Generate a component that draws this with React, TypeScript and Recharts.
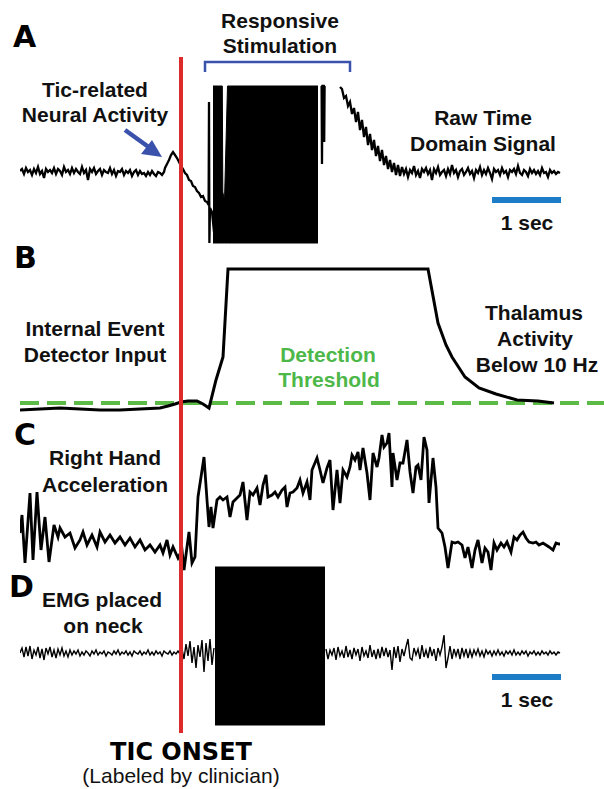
import React from "react";
import { ComposedChart, Line, Area, XAxis, YAxis, ReferenceLine } from "recharts";

// x axis: sample index (68 samples = 1 sec)
// ---------- Panel A : raw time-domain signal ----------
const aPreVals = [1,3,-2,4,0,2,-3,3,-1,5,-2,1,-6,3,0,2,-1,4,-2,3,1,-3,5,0,2,-2,4,-1,3,0,-2,5,-1,2,-8,3,0,4,-2,1,3,-3,2,0,-1,4,-2,2,-4,1,0,3,-3,1,-1,2,-4,0,2,-3,1,-2,-1,-4,0,-3,1,-2,-4,0,-1,-3,0];
const aTic = [[145,4],[147,8],[149,12],[151,17],[153,20],[155,17],[157,14],[159,10],[161,6],[163,3],[165,-1],[167,-3],[169,-8],[171,-9],[173,-14],[175,-15],[177,-19],[179,-21],[181,-25],[183,-24],[185,-29],[187,-30],[188.6,-33],[189,70],[189.4,-71],[190,-36],[192,-40],[194,-60]];
const aArtifact = [[301.6,86],[302,8],[302.4,86],[303.8,86],[304.2,30],[304.6,86]];
const aDecayVals = [85,83,74,76,66,70,58,64,50,60,42,52,35,45,27,38,22,32,16,26,11,22,7,16,3,12,0,9,-3,7,-4];
const aTailVals = [5,-2,3,-5,2,-1,6,-3,1,-6,3,0,4,-2,2,-8,3,-1,5,-3,0,2,-4,3,-2,7,-1,2,-5,1,3,-3,0,4,-2,1,-6,2,-1,5,-3,2,-2,4,-1,-7,3,0,2,-3,4,-1,1,-5,2,0,3,-2,6,-1,-3,2,0,-4,3,-1,2,-2,1,-3,4,-1,0,-5,2,-1,1,-2,0,-1];
const aStimBlock = [[193,-71,86],[202.3,-71,86],[202.8,-71,-20],[204.5,-71,-28],[207.5,-71,86],[298,-71,86]];
const bracket = [[185,100],[185,110],[330,110],[330,100]];

// ---------- Panel B : detector input ----------
const bDetector = [[0,-7],[20,-6],[40,-5],[60,-6],[80,-7],[100,-7],[120,-6],[140,-5],[148,-3],[155,-1],[161,1],[168,2],[177,2],[183,-1],[189,-5],[196,23],[203,46],[208,134],[408,134],[418,80],[426,58],[432,46],[445,26],[459,15],[476,9],[497,3],[518,2],[534,0]];

// ---------- Panel C : right hand acceleration ----------
const cAccel = [[0,7],[2,25],[5,-23],[10,47],[13,-20],[17,48],[21,-10],[25,23],[29,-22],[34,15],[38,3],[40,12],[45,3],[50,7],[55,-8],[60,0],[63,8],[67,-5],[72,5],[77,-7],[80,8],[85,-2],[90,5],[95,-3],[100,3],[105,-5],[110,2],[115,-7],[120,0],[125,-10],[130,-5],[135,-12],[140,-5],[143,-13],[147,0],[150,-15],[153,-7],[158,-18],[162,-10],[164,-30],[167,-7],[169,8],[172,-23],[175,-17],[178,43],[181,63],[184,83],[187,40],[189,13],[191,33],[193,12],[197,40],[200,43],[203,40],[207,43],[210,23],[213,38],[217,42],[220,45],[223,58],[227,20],[230,48],[233,45],[237,52],[240,35],[243,55],[246,65],[248,43],[252,45],[255,48],[258,43],[262,50],[265,53],[267,33],[270,47],[273,48],[277,52],[280,60],[283,47],[287,58],[290,40],[292,70],[297,82],[300,70],[303,57],[307,72],[310,80],[313,30],[317,70],[320,37],[323,70],[327,63],[330,73],[332,85],[335,80],[338,88],[340,70],[343,92],[347,67],[350,40],[353,87],[357,73],[359,82],[362,105],[364,93],[367,97],[369,107],[372,53],[373,87],[377,60],[380,77],[383,77],[387,100],[390,68],[393,47],[396,73],[398,75],[401,60],[404,103],[407,90],[409,37],[413,82],[416,53],[418,12],[422,7],[425,-7],[428,-28],[432,-2],[435,-3],[438,-2],[442,-5],[445,-18],[448,-7],[452,-28],[455,-10],[458,0],[462,-23],[465,-8],[468,-12],[471,-30],[474,-3],[477,-10],[481,-3],[484,-7],[487,-2],[491,-12],[494,3],[497,0],[500,5],[503,8],[506,2],[509,-2],[513,-3],[516,-2],[519,-5],[523,-3],[526,-5],[529,-7],[533,-10],[536,-3],[539,-4],[540,-4]];

// ---------- Panel D : EMG on neck ----------
const dPreVals = [0,5,-4,6,-3,7,-6,3,-2,6,-5,4,-7,5,-1,6,-4,3,-5,4,-2,5,-3,2,-4,
  3,-2,2,-1,3,-3,1,-2,2,0,-3,2,-1,3,-2,1,-1,2,-3,1,0,-2,2,-1,3,-2,1,-1,2,-2,1,-3,2,0,-1,2,-2,1,-1,3,-2,1,-2,2,-1,1,-3,2,0,-1,2,-2,1,-1,2,
  -1,4,-6,9,-3,12,-10,6,-15,8,-4,13,-19,10,-8,14,-12,5];
const dPostVals = [4,-6,3,-2,5,-7,6,-3,2,-5,7,-4,3,-6,5,-2,4,-8,6,-3,2,-5,8,-4,3,-6,4,-5,6,-3,5,-4,3,-17,6,-5,7,-9,4,-3,6,14,-5,-7,5,-2,4,-6,8,-4,3,-5,6,-3,4,-8,5,-2,6,18,-15,-5,7,-6,4,-3,4,-6,5,-3,4,-5,3,
  -4,3,-2,4,-3,2,-4,3,-1,2,-3,2,-2,3,-2,1,-3,2,-1,2,-2,3,-2,1,-2,2,-1,2,-3,1,-1,2,-2,1,-2,2,-1,1,-2,2,-1,1,-2,1,0];
const dStimBlock = [[195,-72,86],[305,-72,86]];

const TIC_ONSET = 161;
const SCALE_BAR = [472, 541]; // 1 sec

const pair = (arr: number[][]) => arr.map(([n, v]) => ({ n, v }));
const aLine = [
  ...aPreVals.map((v, i) => ({ n: i * 2, v })),
  ...pair(aTic),
  { n: 196, v: null },
  ...pair(aArtifact),
  { n: 310, v: null },
  ...aDecayVals.map((v, i) => ({ n: 320 + i * 2, v })),
  ...aTailVals.map((v, i) => ({ n: 382 + i * 2, v })),
];
const aBlock = aStimBlock.map(([n, lo, hi]) => ({ n, r: [lo, hi] }));
const dLine = [
  ...dPreVals.map((v, i) => ({ n: i * 2, v })),
  { n: 200, v: null },
  ...dPostVals.map((v, i) => ({ n: 306 + i * 2, v })),
];
const dBlock = dStimBlock.map(([n, lo, hi]) => ({ n, r: [lo, hi] }));

const BOLD = { fontFamily: "'Liberation Sans', Arial, sans-serif", fontWeight: 700, fontSize: 21, fill: "#111" } as const;
const LETTER = { fontFamily: "'DejaVu Sans', sans-serif", fontWeight: 700, fontSize: 30, fill: "#000" } as const;

export default function App() {
  return (
    <div style={{ position: "absolute", left: 0, top: 0, width: 604, height: 789, background: "#fff" }}>
      <ComposedChart width={604} height={789} margin={{ top: 57, right: 0, bottom: 56, left: 20 }}>
        <XAxis type="number" dataKey="n" domain={[0, 584]} hide allowDataOverflow />
        <YAxis yAxisId="A" type="number" domain={[-561, 115]} hide allowDataOverflow />
        <YAxis yAxisId="B" type="number" domain={[-330, 346]} hide allowDataOverflow />
        <YAxis yAxisId="C" type="number" domain={[-193, 483]} hide allowDataOverflow />
        <YAxis yAxisId="D" type="number" domain={[-80, 596]} hide allowDataOverflow />

        <Area yAxisId="A" data={aBlock} dataKey="r" type="linear" stroke="#000" strokeWidth={1} fill="#000" fillOpacity={1} isAnimationActive={false} />
        <Line yAxisId="A" data={aLine} dataKey="v" type="linear" stroke="#000" strokeWidth={2.3} dot={false} connectNulls={false} isAnimationActive={false} />
        <Line yAxisId="A" data={pair(bracket)} dataKey="v" type="linear" stroke="#3b52ad" strokeWidth={2.5} dot={false} isAnimationActive={false} />

        <ReferenceLine yAxisId="B" y={0} stroke="#5cba47" strokeWidth={4} strokeDasharray="19 8" />
        <Line yAxisId="B" data={pair(bDetector)} dataKey="v" type="linear" stroke="#000" strokeWidth={3} dot={false} isAnimationActive={false} />

        <Line yAxisId="C" data={pair(cAccel)} dataKey="v" type="linear" stroke="#000" strokeWidth={2.8} dot={false} isAnimationActive={false} />

        <Area yAxisId="D" data={dBlock} dataKey="r" type="linear" stroke="#000" strokeWidth={1} fill="#000" fillOpacity={1} isAnimationActive={false} />
        <Line yAxisId="D" data={dLine} dataKey="v" type="linear" stroke="#000" strokeWidth={1.4} dot={false} connectNulls={false} isAnimationActive={false} />

        <ReferenceLine yAxisId="A" segment={[{ x: SCALE_BAR[0], y: -28 }, { x: SCALE_BAR[1], y: -28 }]} stroke="#1c7cc5" strokeWidth={6} />
        <ReferenceLine yAxisId="D" segment={[{ x: SCALE_BAR[0], y: -24 }, { x: SCALE_BAR[1], y: -24 }]} stroke="#1c7cc5" strokeWidth={6} />
        <ReferenceLine yAxisId="A" x={TIC_ONSET} stroke="#dd2a2a" strokeWidth={4} />
      </ComposedChart>

      <svg width={604} height={789} style={{ position: "absolute", left: 0, top: 0, pointerEvents: "none" }}>
        <text x={13} y={47} {...LETTER}>A</text>
        <text x={14} y={268} {...LETTER}>B</text>
        <text x={14} y={445} {...LETTER}>C</text>
        <text x={9} y={597} {...LETTER}>D</text>

        <text x={280} y={28} textAnchor="middle" {...BOLD}>Responsive</text>
        <text x={280} y={53} textAnchor="middle" {...BOLD}>Stimulation</text>
        <text x={95} y={97} textAnchor="middle" {...BOLD}>Tic-related</text>
        <text x={95} y={122} textAnchor="middle" {...BOLD}>Neural Activity</text>
        <text x={483} y={125} textAnchor="middle" {...BOLD}>Raw Time</text>
        <text x={483} y={151} textAnchor="middle" {...BOLD}>Domain Signal</text>
        <text x={527} y={230} textAnchor="middle" {...BOLD}>1 sec</text>

        <line x1={125} y1={130} x2={150} y2={148} stroke="#3b52ad" strokeWidth={4.5} />
        <polygon points="162,157 141,154 152,140" fill="#3b52ad" />

        <text x={95} y={336} textAnchor="middle" {...BOLD}>Internal Event</text>
        <text x={95} y={362} textAnchor="middle" {...BOLD}>Detector Input</text>
        <text x={328} y={362} textAnchor="middle" {...BOLD} fill="#4db849">Detection</text>
        <text x={329} y={387} textAnchor="middle" {...BOLD} fill="#4db849">Threshold</text>
        <text x={534} y={320} textAnchor="middle" {...BOLD}>Thalamus</text>
        <text x={535} y={346} textAnchor="middle" {...BOLD}>Activity</text>
        <text x={537} y={372} textAnchor="middle" {...BOLD}>Below 10 Hz</text>

        <text x={105} y={465} textAnchor="middle" {...BOLD}>Right Hand</text>
        <text x={105} y={492} textAnchor="middle" {...BOLD}>Acceleration</text>

        <text x={102} y={607} textAnchor="middle" {...BOLD}>EMG placed</text>
        <text x={103} y={633} textAnchor="middle" {...BOLD}>on neck</text>
        <text x={527} y={707} textAnchor="middle" {...BOLD}>1 sec</text>

        <text x={181} y={760} textAnchor="middle" fontFamily="'DejaVu Sans', sans-serif" fontWeight={700} fontSize={24} fill="#000">TIC ONSET</text>
        <text x={181} y={783} textAnchor="middle" fontFamily="'Liberation Sans', Arial, sans-serif" fontSize={21} fill="#111">(Labeled by clinician)</text>
      </svg>
    </div>
  );
}
